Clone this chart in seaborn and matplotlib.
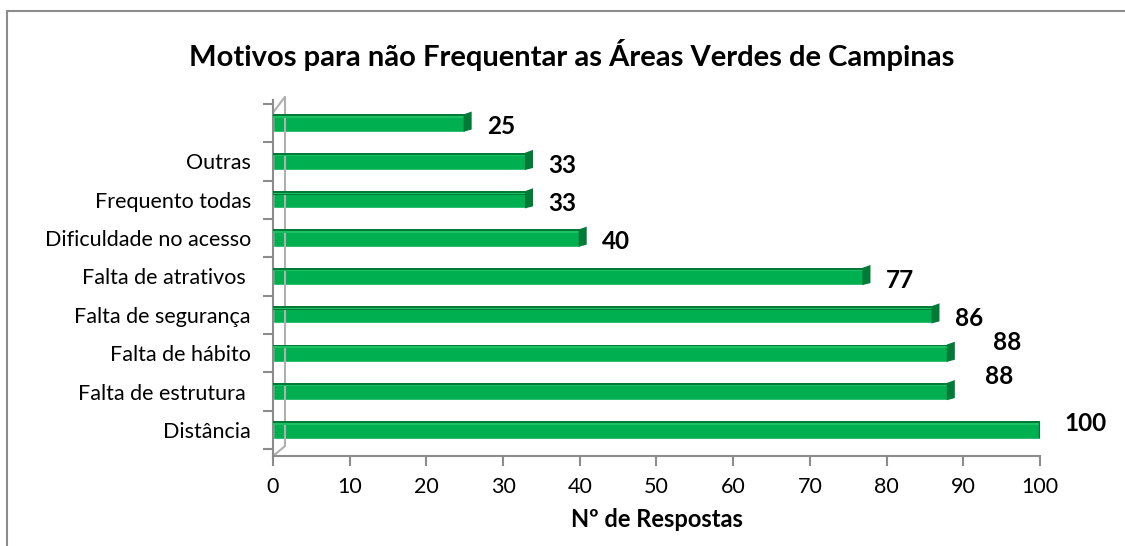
# Motivos para nao frequentar as areas verdes - horizontal bars
import matplotlib
matplotlib.use("Agg")
import matplotlib.pyplot as plt
import seaborn as sns
import pandas as pd
from matplotlib.patches import Rectangle, Polygon

# --- DATA ---
categorias = ["", "Outras", "Frequento todas", "Dificuldade no acesso",
              "Falta de atrativos ", "Falta de segurança", "Falta de hábito",
              "Falta de estrutura ", "Distância"]
respostas = [25, 33, 33, 40, 77, 86, 88, 88, 100]
x_ticks = [0, 10, 20, 30, 40, 50, 60, 70, 80, 90, 100]

df = pd.DataFrame({"motivo": categorias, "n": respostas})

# --- STYLE ---
sns.set_style("white")
plt.rcParams["font.family"] = ["Lato", "DejaVu Sans"]
plt.rcParams["text.color"] = "black"
plt.rcParams["axes.labelcolor"] = "black"

verde = "#00B050"
verde_escuro = "#007A36"
cinza = "#8C8C8C"

fig = plt.figure(figsize=(11.25, 5.46), dpi=100)
ax = fig.add_axes([0.2427, 0.1648, 0.6817, 0.6520])

sns.barplot(data=df, y="motivo", x="n", orient="h", color=verde,
            width=0.45, saturation=1, ax=ax)

# fake 3D: dark top strip and right cap on every bar
for i, v in enumerate(respostas):
    ax.add_patch(Rectangle((0, i - 0.225), v, 0.09, color=verde_escuro, lw=0, zorder=3))
    ax.add_patch(Rectangle((0, i - 0.18), v, 0.04, color="#1DC063", lw=0, zorder=3))
    ax.add_patch(Polygon([[v - 0.15, i - 0.225], [v + 0.9, i - 0.30],
                          [v + 0.9, i + 0.17], [v - 0.15, i + 0.225]],
                         closed=True, color=verde_escuro, lw=0, zorder=3))

ax.set_xlim(0, 100)
ax.set_ylim(8.68, -0.6)

# data labels (a few are pushed away from the bar like in the original)
nudge = {6: (5.9, -0.29), 7: (4.8, -0.39), 8: (3.2, -0.18)}
for i, v in enumerate(respostas):
    dx, dy = nudge.get(i, (2.9, 0.1))
    ax.text(v + dx, i + dy, str(v), ha="left", va="center",
            fontsize=17.5, fontweight="bold", color="black")

# axes look
for s in ["top", "right"]:
    ax.spines[s].set_visible(False)
for s in ["left", "bottom"]:
    ax.spines[s].set_color(cinza)
    ax.spines[s].set_linewidth(1.5)

# back wall line of the 3d chart
ax.plot([1.5, 1.5], [8.43, -0.67], color="#B0B0B0", lw=1.5, clip_on=False, zorder=1)
ax.plot([0, 1.5], [8.68, 8.43], color="#B0B0B0", lw=1.5, clip_on=False, zorder=1)
ax.plot([0, 1.5], [-0.27, -0.67], color="#B0B0B0", lw=1.5, clip_on=False, zorder=1)

ax.set_xticks(x_ticks)
ax.set_xticklabels([str(t) for t in x_ticks], fontsize=15.5)
ax.tick_params(axis="x", length=7, width=1.5, color=cinza, labelcolor="black",
               pad=8, bottom=True)
ax.tick_params(axis="y", which="major", length=0, labelsize=15.5, labelcolor="black", pad=16)
ax.set_yticks([i - 0.5 for i in range(len(categorias))] + [8.5], minor=True)
ax.tick_params(axis="y", which="minor", length=7, width=1.5, color=cinza, left=True)

ax.set_ylabel("")
ax.set_xlabel("Nº de Respostas", fontsize=17, fontweight="bold", labelpad=8, color="black")

fig.text(0.508, 0.9, "Motivos para não Frequentar as Áreas Verdes de Campinas",
         ha="center", va="center", fontsize=21, fontweight="bold", color="black")

# outer chart border
fig.patches.append(Rectangle((0.0062, -0.01), 1.0, 0.99, transform=fig.transFigure,
                             fill=False, edgecolor=cinza, lw=1.5))

fig.savefig("out.png", dpi=100)
